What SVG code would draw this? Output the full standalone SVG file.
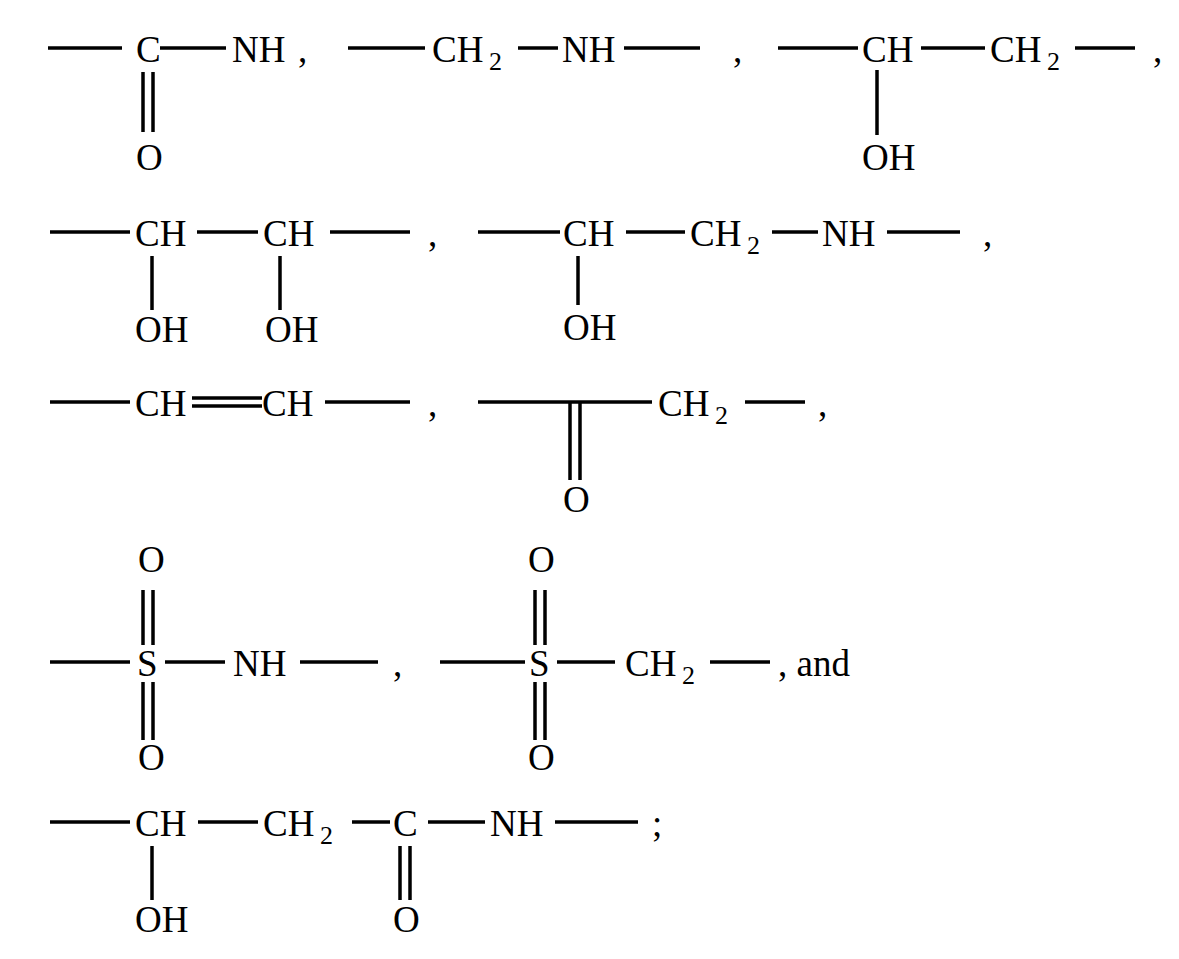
<svg xmlns="http://www.w3.org/2000/svg" width="1179" height="959" viewBox="0 0 1179 959">
<style>
text{font-family:"Liberation Serif",serif;font-size:37px;fill:#000}
.s{font-size:26px}
line{stroke:#000;stroke-width:3.5}
</style>
<rect width="1179" height="959" fill="#fff"/>
<!-- row 1 -->
<line x1="48" y1="48" x2="122" y2="48"/><text x="136" y="62">C</text><line x1="160" y1="48" x2="226" y2="48"/><text x="232" y="62">NH</text><text x="298" y="62">,</text>
<line x1="143" y1="72" x2="143" y2="132"/><line x1="153" y1="72" x2="153" y2="132"/><text x="136" y="170">O</text>
<line x1="348" y1="48" x2="425" y2="48"/><text x="432" y="62">CH</text><text x="489" y="70" class="s">2</text><line x1="518" y1="48" x2="558" y2="48"/><text x="562" y="62">NH</text><line x1="624" y1="48" x2="700" y2="48"/><text x="733" y="62">,</text>
<line x1="778" y1="48" x2="858" y2="48"/><text x="862" y="62">CH</text><line x1="921" y1="48" x2="985" y2="48"/><text x="990" y="62">CH</text><text x="1047" y="70" class="s">2</text><line x1="1075" y1="48" x2="1135" y2="48"/><text x="1153" y="62">,</text>
<line x1="877" y1="70" x2="877" y2="135"/><text x="862" y="170">OH</text>
<!-- row 2 -->
<line x1="50" y1="232" x2="130" y2="232"/><text x="135" y="246">CH</text><line x1="197" y1="232" x2="258" y2="232"/><text x="263" y="246">CH</text><line x1="330" y1="232" x2="410" y2="232"/><text x="428" y="246">,</text>
<line x1="152" y1="256" x2="152" y2="310"/><text x="135" y="342">OH</text><line x1="280" y1="256" x2="280" y2="310"/><text x="265" y="342">OH</text>
<line x1="478" y1="232" x2="560" y2="232"/><text x="563" y="246">CH</text><line x1="626" y1="232" x2="685" y2="232"/><text x="690" y="246">CH</text><text x="747" y="254" class="s">2</text><line x1="772" y1="232" x2="818" y2="232"/><text x="822" y="246">NH</text><line x1="887" y1="232" x2="960" y2="232"/><text x="983" y="246">,</text>
<line x1="578" y1="256" x2="578" y2="305"/><text x="563" y="340">OH</text>
<!-- row 3 -->
<line x1="50" y1="402" x2="130" y2="402"/><text x="135" y="416">CH</text><line x1="192" y1="398" x2="262" y2="398"/><line x1="192" y1="406" x2="262" y2="406"/><text x="262" y="416">CH</text><line x1="325" y1="402" x2="410" y2="402"/><text x="428" y="416">,</text>
<line x1="478" y1="402" x2="652" y2="402"/><text x="658" y="416">CH</text><text x="715" y="424" class="s">2</text><line x1="745" y1="402" x2="805" y2="402"/><text x="818" y="416">,</text>
<line x1="570" y1="402" x2="570" y2="480"/><line x1="580" y1="402" x2="580" y2="480"/><text x="563" y="512">O</text>
<!-- row 4 -->
<text x="138" y="572">O</text><line x1="143" y1="590" x2="143" y2="645"/><line x1="153" y1="590" x2="153" y2="645"/>
<line x1="50" y1="662" x2="130" y2="662"/><text x="137" y="676">S</text><line x1="165" y1="662" x2="225" y2="662"/><text x="233" y="676">NH</text><line x1="300" y1="662" x2="378" y2="662"/><text x="393" y="676">,</text>
<line x1="143" y1="682" x2="143" y2="740"/><line x1="153" y1="682" x2="153" y2="740"/><text x="138" y="770">O</text>
<text x="528" y="572">O</text><line x1="535" y1="590" x2="535" y2="645"/><line x1="545" y1="590" x2="545" y2="645"/>
<line x1="440" y1="662" x2="525" y2="662"/><text x="529" y="676">S</text><line x1="557" y1="662" x2="615" y2="662"/><text x="625" y="676">CH</text><text x="682" y="684" class="s">2</text><line x1="710" y1="662" x2="770" y2="662"/><text x="778" y="676">, and</text>
<line x1="535" y1="682" x2="535" y2="740"/><line x1="545" y1="682" x2="545" y2="740"/><text x="528" y="770">O</text>
<!-- row 5 -->
<line x1="50" y1="822" x2="130" y2="822"/><text x="135" y="836">CH</text><line x1="198" y1="822" x2="258" y2="822"/><text x="263" y="836">CH</text><text x="320" y="844" class="s">2</text><line x1="352" y1="822" x2="390" y2="822"/><text x="393" y="836">C</text><line x1="428" y1="822" x2="485" y2="822"/><text x="490" y="836">NH</text><line x1="555" y1="822" x2="638" y2="822"/><text x="652" y="836">;</text>
<line x1="152" y1="846" x2="152" y2="900"/><text x="135" y="932">OH</text>
<line x1="400" y1="846" x2="400" y2="900"/><line x1="410" y1="846" x2="410" y2="900"/><text x="393" y="932">O</text>
</svg>
